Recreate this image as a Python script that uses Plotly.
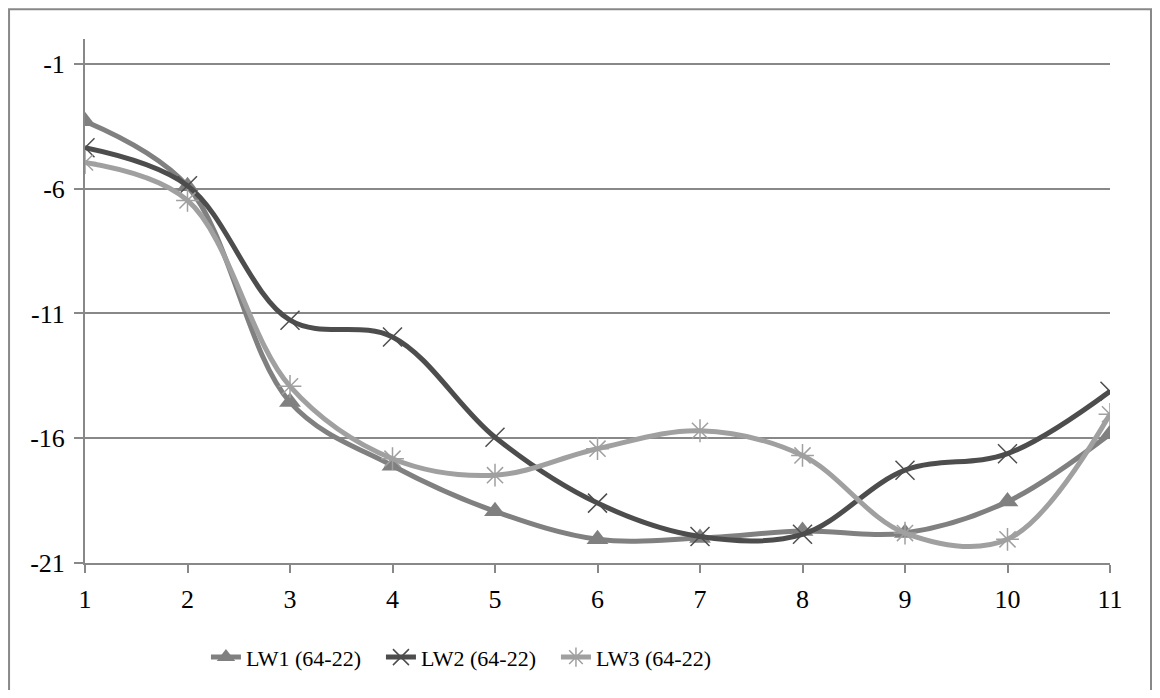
import plotly.graph_objects as go

categories = [1, 2, 3, 4, 5, 6, 7, 8, 9, 10, 11]
lw1 = [-3.3, -5.9, -14.55, -17.1, -18.93, -20.05, -20.0, -19.72, -19.8, -18.54, -15.83]
lw2 = [-4.36, -5.88, -11.27, -11.94, -15.96, -18.6, -19.94, -19.85, -17.28, -16.62, -14.12]
lw3 = [-4.95, -6.47, -13.92, -16.82, -17.48, -16.42, -15.7, -16.69, -19.8, -20.05, -15.04]
names = ["LW1 (64-22)", "LW2 (64-22)", "LW3 (64-22)"]
y_ticks = [-21, -16, -11, -6, -1]

FONT = "Liberation Serif, Times New Roman, serif"

fig = go.Figure()
fig.add_trace(go.Scatter(
    x=categories, y=lw1, name=names[0], mode="lines+markers",
    line=dict(color="#808080", width=5, shape="spline", smoothing=1),
    marker=dict(symbol="triangle-up", size=19, color="#808080")))
fig.add_trace(go.Scatter(
    x=categories, y=lw2, name=names[1], mode="lines+markers",
    line=dict(color="#4d4d4d", width=5, shape="spline", smoothing=1),
    marker=dict(symbol="x-thin", size=19, color="#4d4d4d",
                line=dict(color="#4d4d4d", width=1.5))))
fig.add_trace(go.Scatter(
    x=categories, y=lw3, name=names[2], mode="lines+markers",
    line=dict(color="#a0a0a0", width=5, shape="spline", smoothing=1),
    marker=dict(symbol="asterisk-open", size=19, color="#a0a0a0",
                line=dict(color="#a0a0a0", width=1.5))))

fig.update_layout(
    width=1144, height=682,
    margin=dict(l=77, r=42, t=31, b=121),
    paper_bgcolor="white", plot_bgcolor="white",
    font=dict(family=FONT, size=22, color="black"),
    showlegend=True,
    legend=dict(orientation="h", x=0.118, xanchor="left", y=-0.18, yanchor="middle",
                entrywidth=130, entrywidthmode="pixels",
                font=dict(family=FONT, size=22, color="black"),
                tracegroupgap=0),
    xaxis=dict(range=[1, 11], tickvals=categories, ticktext=[str(c) for c in categories],
               showgrid=False, zeroline=False, showline=True, linecolor="#888888",
               linewidth=2, ticks="outside", ticklen=8, tickcolor="#888888", tickwidth=2,
               ticklabelstandoff=4,
               tickfont=dict(family=FONT, size=26, color="black"), fixedrange=True),
    yaxis=dict(range=[-21, 0], tickvals=y_ticks, ticktext=[str(v) for v in y_ticks],
               showgrid=True, gridcolor="#888888", gridwidth=1.5, zeroline=False,
               showline=True, linecolor="#888888", linewidth=2, ticks="outside",
               ticklen=9, tickcolor="#888888", tickwidth=2, ticklabelstandoff=4,
               tickfont=dict(family=FONT, size=26, color="black"), fixedrange=True),
)

fig.add_shape(type="rect", xref="paper", yref="paper",
              x0=-0.0741, x1=1.04, y0=-0.3, y1=1.0566,
              line=dict(color="#888888", width=2), fillcolor="rgba(0,0,0,0)",
              layer="below")

fig.write_html("out.html")
